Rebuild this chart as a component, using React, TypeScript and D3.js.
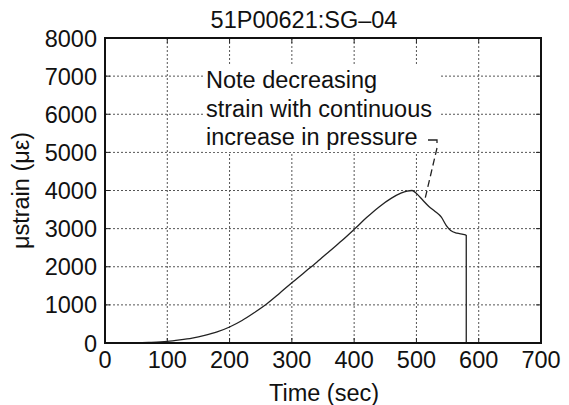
import React from "react";
import * as d3 from "d3";

const titleText = "51P00621:SG–04";
const xLabel = "Time (sec)";
const yLabel = "μstrain (με)";
const xTicks = [0, 100, 200, 300, 400, 500, 600, 700];
const yTicks = [0, 1000, 2000, 3000, 4000, 5000, 6000, 7000, 8000];
const noteLines = ["Note decreasing", "strain with continuous", "increase in pressure"];

const times = [0, 40, 70, 100, 120, 140, 160, 180, 200, 220, 240, 260, 280, 300, 320, 340, 360, 380, 400, 420, 440, 460, 475, 485, 493, 500, 510, 520, 530, 540, 548, 555, 565, 575, 580, 580];
const strain = [0, 5, 15, 40, 80, 130, 200, 290, 420, 590, 800, 1030, 1300, 1580, 1850, 2120, 2400, 2680, 2980, 3290, 3570, 3800, 3930, 3985, 4000, 3920, 3750, 3580, 3450, 3300, 3080, 2950, 2880, 2850, 2830, 0];

const W = 569;
const H = 405;
const left = 105;
const right = 541;
const top = 38;
const bottom = 343;
const font = "'Liberation Sans', Arial, sans-serif";
const fs = 23.5;

export default function App() {
  const x = d3.scaleLinear().domain([0, 700]).range([left, right]);
  const y = d3.scaleLinear().domain([0, 8000]).range([bottom, top]);
  const pts: [number, number][] = times.map((t, i) => [t, strain[i]]);
  const line = d3
    .line<[number, number]>()
    .x((d) => x(d[0]))
    .y((d) => y(d[1]))
    .curve(d3.curveMonotoneX);
  const pathD = line(pts.slice(0, pts.length - 1)) || "";
  const last = pts[pts.length - 2];
  const end = pts[pts.length - 1];

  return (
    <svg width={W} height={H} style={{ position: "absolute", left: 0, top: 0, background: "#fff" }}>
      <rect x={0} y={0} width={W} height={H} fill="#fff" />
      {/* grid */}
      {xTicks.slice(1, -1).map((t) => (
        <line key={"gx" + t} x1={x(t)} x2={x(t)} y1={top} y2={bottom} stroke="#555" strokeWidth={1} strokeDasharray="2,2" />
      ))}
      {yTicks.slice(1, -1).map((t) => (
        <line key={"gy" + t} x1={left} x2={right} y1={y(t)} y2={y(t)} stroke="#555" strokeWidth={1} strokeDasharray="2,2" />
      ))}
      {/* inner ticks */}
      {xTicks.slice(1, -1).map((t) => (
        <g key={"tx" + t}>
          <line x1={x(t)} x2={x(t)} y1={bottom} y2={bottom - 5} stroke="#222" strokeWidth={1} />
          <line x1={x(t)} x2={x(t)} y1={top} y2={top + 5} stroke="#222" strokeWidth={1} />
        </g>
      ))}
      {yTicks.slice(1, -1).map((t) => (
        <g key={"ty" + t}>
          <line x1={left} x2={left + 5} y1={y(t)} y2={y(t)} stroke="#222" strokeWidth={1} />
          <line x1={right} x2={right - 5} y1={y(t)} y2={y(t)} stroke="#222" strokeWidth={1} />
        </g>
      ))}
      {/* note with white background */}
      <rect x={203} y={64} width={236} height={88} fill="#fff" />
      {noteLines.map((s, i) => (
        <text key={s} x={206} y={88 + i * 28.5} fontFamily={font} fontSize={fs} fill="#111">
          {s}
        </text>
      ))}
      {/* leader */}
      <path d="M428,140 L437,140 L437,143" fill="none" stroke="#222" strokeWidth={1.3} />
      <line x1={437} y1={148} x2={425} y2={199} stroke="#222" strokeWidth={1.3} strokeDasharray="7,4" />
      {/* data */}
      <path d={pathD} fill="none" stroke="#222" strokeWidth={1.3} />
      <line x1={x(last[0])} y1={y(last[1])} x2={x(end[0])} y2={y(end[1])} stroke="#222" strokeWidth={1.3} />
      {/* frame */}
      <rect x={left} y={top} width={right - left} height={bottom - top} fill="none" stroke="#111" strokeWidth={2} />
      {/* tick labels */}
      {xTicks.map((t) => (
        <text key={"lx" + t} x={x(t)} y={368} textAnchor="middle" fontFamily={font} fontSize={fs} fill="#111">
          {t}
        </text>
      ))}
      {yTicks.map((t) => (
        <text key={"ly" + t} x={97} y={y(t) + 8.5} textAnchor="end" fontFamily={font} fontSize={fs} fill="#111">
          {t}
        </text>
      ))}
      <text x={304} y={28} textAnchor="middle" fontFamily={font} fontSize={fs} fill="#111">
        {titleText}
      </text>
      <text x={324} y={401} textAnchor="middle" fontFamily={font} fontSize={fs} fill="#111">
        {xLabel}
      </text>
      <text transform={`translate(29,${(top + bottom) / 2}) rotate(-90)`} textAnchor="middle" fontFamily={font} fontSize={fs} fill="#111">
        {yLabel}
      </text>
    </svg>
  );
}
